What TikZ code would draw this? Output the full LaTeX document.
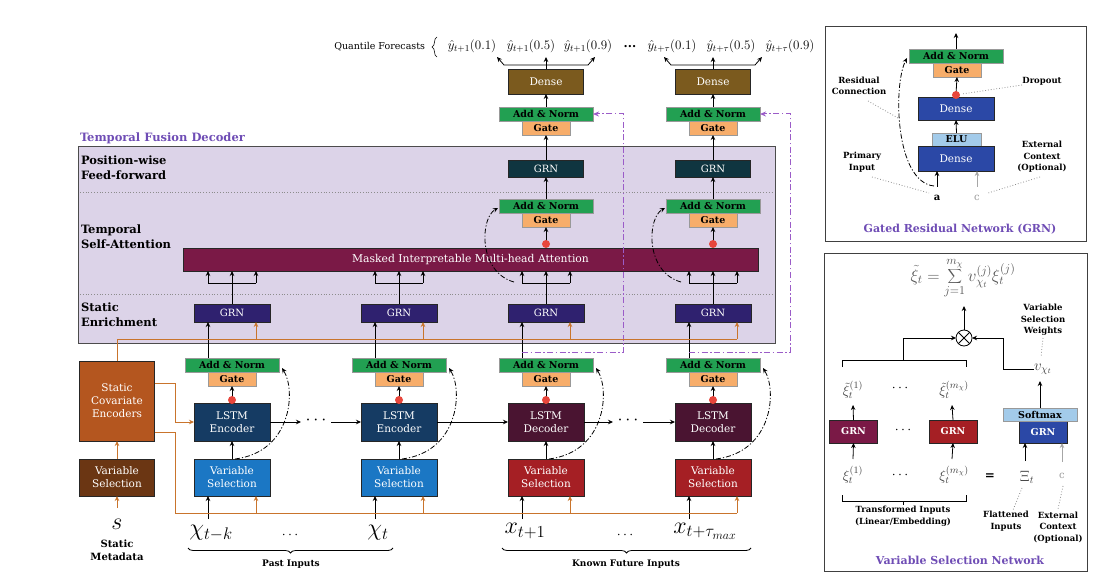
\documentclass[tikz,border=0pt]{standalone}
\usepackage{fix-cm}
\usepackage[no-math]{fontspec}
\setmainfont{DejaVu Serif}
\usetikzlibrary{arrows.meta,decorations.pathreplacing,calc}
\definecolor{angreen}{HTML}{22A052}
\definecolor{gateorange}{HTML}{F7AD6A}
\definecolor{densebrown}{HTML}{7B5A1E}
\definecolor{pwteal}{HTML}{0F3540}
\definecolor{seindigo}{HTML}{2F216F}
\definecolor{attmaroon}{HTML}{7A1946}
\definecolor{encblue}{HTML}{153B63}
\definecolor{decmaroon}{HTML}{4A1431}
\definecolor{vsblue}{HTML}{1B77C4}
\definecolor{vsred}{HTML}{A51F24}
\definecolor{scebrown}{HTML}{B4561F}
\definecolor{svsbrown}{HTML}{6B3613}
\definecolor{tfdfill}{HTML}{DCD3E8}
\definecolor{dashpurple}{HTML}{9B5CC8}
\definecolor{titlepurple}{HTML}{6F4DB5}
\definecolor{lineorange}{HTML}{C9742C}
\definecolor{dotred}{HTML}{E8463C}
\definecolor{denseblue}{HTML}{2B48A6}
\definecolor{lightblue}{HTML}{A3CBEA}
\newcommand\fsz[2]{\fontsize{#1}{#2}\selectfont}
\begin{document}
\begin{tikzpicture}[x=1pt,y=-1pt,
 every node/.style={inner sep=0pt, outer sep=0pt},
 arr/.style={-{Stealth[length=5pt,width=4.5pt]}, line width=0.8pt},
 garr/.style={arr, draw=black!35},
 oarr/.style={arr, draw=lineorange},
 oline/.style={line width=0.8pt, draw=lineorange},
 resid/.style={arr, dash pattern=on 5pt off 2pt on 1.2pt off 2pt},
 purp/.style={line width=1pt, draw=dashpurple, dash pattern=on 6pt off 2.5pt on 1.5pt off 2.5pt, -{Stealth[length=6pt,width=5pt]}},
 box/.style={draw=black!85, line width=0.8pt, text=white, align=center, font=\fsz{10}{12}},
 an/.style={draw=black!40, line width=0.8pt, fill=angreen, text=black, font=\fsz{9.5}{12}\bfseries, minimum width=94pt, minimum height=14pt},
 gate/.style={an, fill=gateorange, minimum width=48pt},
 dropdot/.style={circle, fill=dotred, minimum size=8pt},
 lbl/.style={font=\fsz{9}{11.5}\bfseries, align=center},
 note/.style={font=\fsz{8.5}{11.5}\bfseries, align=center},
 big/.style={font=\fsz{24}{24}},
 mth/.style={font=\fsz{14}{14}},
 rowlbl/.style={anchor=north west, font=\fsz{11.5}{15}\bfseries, align=left},
 dotline/.style={draw=black!45, line width=0.8pt, dotted},
]
\useasboundingbox (0,0) rectangle (1113,585);

% ---------- Temporal fusion decoder background
\node[draw=black!70, line width=1pt, fill=tfdfill, minimum width=697pt, minimum height=196pt] (tfd) at (426.5,245) {};
\draw[dotline] (80,192) -- (774,192);
\draw[dotline] (80,294) -- (774,294);
\node[anchor=west, font=\fsz{11.5}{13}\bfseries, text=titlepurple] (tfdtitle) at (80,138) {Temporal Fusion Decoder};
\node[rowlbl] (rowpw) at (81,156) {Position-wise\\Feed-forward};
\node[rowlbl] (rowsa) at (81,225) {Temporal\\Self-Attention};
\node[rowlbl] (rowse) at (81,303) {Static\\Enrichment};

\node[box, fill=attmaroon, minimum width=575pt, minimum height=23pt, font=\fsz{10.8}{12}] (att) at (470.5,259.5) {Masked Interpretable Multi-head Attention};

% ---------- static covariate path
\node[box, fill=scebrown, minimum width=75pt, minimum height=80pt, font=\fsz{10.5}{13}] (sce) at (117,401) {Static\\Covariate\\Encoders};
\node[box, fill=svsbrown, minimum width=75pt, minimum height=37pt, font=\fsz{10.5}{13}] (svs) at (117,477.5) {Variable\\Selection};
\node[big] (s) at (117,524) {$s$};
\node[font=\fsz{10}{13}\bfseries, align=center] (sm) at (117,550) {Static\\Metadata};
\draw[oarr] (svs.north) -- (sce.south);
\draw[oarr] (117,508) -- (svs.south);

% ---------- columns
\foreach \cx/\i/\lf/\lt/\vf in {232/1/encblue/Encoder/vsblue, 399/2/encblue/Encoder/vsblue, 546/3/decmaroon/Decoder/vsred, 713/4/decmaroon/Decoder/vsred}{
  \node[box, fill=\vf, minimum width=76pt, minimum height=37pt, font=\fsz{10.5}{13}] (vs\i) at (\cx,477.5) {Variable\\Selection};
  \node[box, fill=\lf, minimum width=76pt, minimum height=38pt, font=\fsz{10.5}{13}] (lstm\i) at (\cx,422) {LSTM\\\lt};
  \node[gate] (ga\i) at (\cx,379) {Gate};
  \node[an] (an\i) at (\cx,365) {Add \& Norm};
  \node[box, fill=seindigo, minimum width=76pt, minimum height=18pt] (se\i) at (\cx,313) {GRN};
  \draw[arr] (vs\i.north) -- (lstm\i.south);
  \draw[arr] (\cx,399) -- (ga\i.south);
  \node[dropdot] (dd\i) at (\cx,400) {};
  \draw[arr] (\cx-24,519) -- (\cx-24,496);
  \draw[oarr] (\cx+24,513) -- (\cx+24,496);
  \draw[arr] (\cx-24,358) -- (\cx-24,322);
  \draw[oarr] (\cx+24,339) -- (\cx+24,322);
  \draw[line width=0.8pt] (se\i.north) -- (\cx,283) (\cx-24,283) -- (\cx+24,283);
  \draw[arr] (\cx-24,283) -- (\cx-24,271);
  \draw[arr] (\cx,283) -- (\cx,271);
  \draw[arr] (\cx+24,283) -- (\cx+24,271);
  \draw[resid] (\cx+3,459) .. controls (\cx+60,452) and (\cx+64,390) .. (\cx+50,368);
}

\foreach \cx/\i in {546/3,713/4}{
  \node[gate] (iga\i) at (\cx,220) {Gate};
  \node[an] (ian\i) at (\cx,206) {Add \& Norm};
  \draw[arr] (\cx,243) -- (iga\i.south);
  \node[dropdot] (ad\i) at (\cx,244) {};
  \draw[resid] (\cx-32,282) .. controls (\cx-68,272) and (\cx-66,218) .. (\cx-48,208);
  \node[box, fill=pwteal, minimum width=75pt, minimum height=17pt] (pw\i) at (\cx,168.5) {GRN};
  \draw[arr] (ian\i.north) -- (pw\i.south);
  \node[gate] (uga\i) at (\cx,128) {Gate};
  \node[an] (uan\i) at (\cx,114) {Add \& Norm};
  \draw[arr] (pw\i.north) -- (uga\i.south);
  \node[box, fill=densebrown, minimum width=75pt, minimum height=25pt, font=\fsz{10.5}{12}] (dn\i) at (\cx,81.5) {Dense};
  \draw[arr] (uan\i.north) -- (dn\i.south);
  \draw[arr] (dn\i.north) -- (\cx,57);
  \draw[arr] (\cx,65) -- (\cx-42,65) -- (\cx-49,57);
  \draw[arr] (\cx,65) -- (\cx+42,65) -- (\cx+49,57);
  \draw[purp] (\cx-24,352) -- (\cx+77,352) -- (\cx+77,114) -- (uan\i.east);
}

% LSTM chain
\node[font=\fsz{18}{18}] (ld1) at (316,420) {$\cdots$};
\node[font=\fsz{18}{18}] (ld2) at (628,420) {$\cdots$};
\draw[arr] (lstm1.east) -- (301,422);
\draw[arr] (331,422) -- (lstm2.west);
\draw[arr] (lstm2.east) -- (lstm3.west);
\draw[arr] (lstm3.east) -- (613,422);
\draw[arr] (643,422) -- (lstm4.west);

% orange static context lines
\draw[oline] (sce.north) -- (117,339) -- (737,339);
\draw[oarr] (sce.east |- 0,383) -- (175,383) -- (175,422) -- (lstm1.west);
\draw[oline] (sce.east |- 0,432) -- (175,432) -- (175,513) -- (737,513);

% inputs
\node[big] (xp1) at (211,533) {$\chi_{t-k}$};
\node[mth] (pdots) at (290,535) {$\cdots$};
\node[big] (xp2) at (378,533) {$\chi_t$};
\node[big] (xf1) at (525,531) {$x_{t+1}$};
\node[mth] (fdots) at (625,535) {$\cdots$};
\node[big] (xf2) at (705,531) {$x_{t+\tau_{max}}$};
\draw[line width=0.8pt, decorate, decoration={brace, mirror, amplitude=5pt}] (188,548) -- (393,548);
\draw[line width=0.8pt, decorate, decoration={brace, mirror, amplitude=5pt}] (502,548) -- (751,548);
\node[lbl] (pil) at (291,564) {Past Inputs};
\node[lbl] (kfl) at (626,564) {Known Future Inputs};

% quantile outputs
\node[anchor=east, font=\fsz{9.5}{12}] (qf) at (425,47) {Quantile Forecasts};
\draw[line width=0.6pt, decorate, decoration={brace, amplitude=5pt}] (437,57) -- (437,37);
\node[font=\fsz{13}{13}] (q1) at (472,46) {$\hat{y}_{t+1}(0.1)$};
\node[font=\fsz{13}{13}] (q2) at (531,46) {$\hat{y}_{t+1}(0.5)$};
\node[font=\fsz{13}{13}] (q3) at (588,46) {$\hat{y}_{t+1}(0.9)$};
\node[font=\fsz{12}{12}\bfseries] (qd) at (630,47) {...};
\node[font=\fsz{13}{13}] (q4) at (672,46) {$\hat{y}_{t+\tau}(0.1)$};
\node[font=\fsz{13}{13}] (q5) at (731,46) {$\hat{y}_{t+\tau}(0.5)$};
\node[font=\fsz{13}{13}] (q6) at (790,46) {$\hat{y}_{t+\tau}(0.9)$};

% ---------- GRN panel
\node[draw=black!75, line width=1pt, minimum width=261pt, minimum height=215pt] (grnp) at (955.5,134.5) {};
\node[gate] (gga) at (957,70) {Gate};
\node[an] (gan) at (956,56) {Add \& Norm};
\node[box, fill=denseblue, minimum width=76pt, minimum height=23pt, font=\fsz{10.5}{12}] (gd1) at (956,108.5) {Dense};
\node[box, fill=lightblue, text=black, draw=black!40, font=\fsz{9.5}{12}\bfseries, minimum width=49pt, minimum height=13pt] (gelu) at (956.5,139.5) {ELU};
\node[box, fill=denseblue, minimum width=76pt, minimum height=25pt, font=\fsz{10.5}{12}] (gd2) at (956,158.5) {Dense};
\draw[arr] (956,94) -- (gga.south);
\node[dropdot] (gdd) at (956,95) {};
\draw[arr] (gelu.north) -- (gd1.south);
\draw[arr] (gan.north) -- (956,33);
\node[font=\fsz{10}{12}\bfseries] (ga) at (937,198) {a};
\node[font=\fsz{10}{12}, text=black!40] (gc) at (977,198) {c};
\draw[arr] (937,187) -- (937,171);
\draw[garr] (977,187) -- (977,171);
\draw[resid] (934,186) .. controls (895,182) and (893,85) .. (907,58);
\node[note] (rc) at (859,86) {Residual\\Connection};
\node[note] (dro) at (1042,81) {Dropout};
\node[note] (pri) at (862,162) {Primary\\Input};
\node[note] (ext) at (1042,157) {External\\Context\\(Optional)};
\draw[dotline] (868,101) -- (898,118);
\draw[dotline] (1022,85) -- (962,94);
\draw[dotline] (872,177) -- (929,193);
\draw[dotline] (1040,177) -- (988,193);
\node[font=\fsz{11}{12}\bfseries, text=titlepurple] (grnt) at (960,229) {Gated Residual Network (GRN)};

% ---------- VSN panel
\node[draw=black!75, line width=1pt, minimum width=263pt, minimum height=317pt] (vsnp) at (955.5,412.5) {};
\node[font=\fsz{17}{18}, text=black!65] (form) at (963,278) {$\displaystyle\tilde{\xi}_t=\sum_{j=1}^{m_\chi}v_{\chi_t}^{(j)}\xi_t^{(j)}$};
\node[circle, draw, line width=0.8pt, minimum size=16pt, path picture={\draw[line width=0.8pt] (path picture bounding box.north west) -- (path picture bounding box.south east) (path picture bounding box.north east) -- (path picture bounding box.south west);}] (ot) at (964,338) {};
\draw[arr] (ot.north) -- (964,306);
\draw[line width=0.8pt] (842,367) -- (842,360) -- (966,360) -- (966,367);
\draw[arr] (903,360) -- (903,338) -- (ot.west);
\node[font=\fsz{15}{15}, text=black!75] (vx) at (1043,369) {$v_{\chi_t}$};
\draw[arr] (vx.west) -- (1003,369) -- (1003,338) -- (ot.east);
\node[note] (vsw) at (1043,320) {Variable\\Selection\\Weights};
\draw[dotline] (1043,338) -- (1041,357);
\node[mth, text=black!75] (xt1) at (853,390) {$\tilde{\xi}_t^{(1)}$};
\node[mth] (xtd) at (900,388) {$\cdots$};
\node[mth, text=black!75] (xtm) at (954,390) {$\tilde{\xi}_t^{(m_\chi)}$};
\node[box, fill=attmaroon, font=\fsz{9.5}{12}\bfseries, minimum width=48pt, minimum height=23pt] (vg1) at (853.5,431.5) {GRN};
\node[mth] (gdots) at (903,430) {$\cdots$};
\node[box, fill=vsred, font=\fsz{9.5}{12}\bfseries, minimum width=48pt, minimum height=23pt] (vg2) at (953,431.5) {GRN};
\node[box, fill=denseblue, font=\fsz{9.5}{12}\bfseries, minimum width=48pt, minimum height=22pt] (vg3) at (1043,432) {GRN};
\node[box, fill=lightblue, text=black, draw=black!40, font=\fsz{9.5}{12}\bfseries, minimum width=74pt, minimum height=13pt] (vsm) at (1040,414.5) {Softmax};
\draw[arr] (vg1.north) -- (853,405);
\draw[arr] (vg2.north) -- (952,405);
\draw[arr] (vsm.north) -- (1040,381);
\node[mth, text=black!75] (x1) at (853,475) {$\xi_t^{(1)}$};
\node[mth] (xd) at (900,475) {$\cdots$};
\node[mth, text=black!75] (xm) at (954,475) {$\xi_t^{(m_\chi)}$};
\draw[arr] (853,459) -- (vg1.south);
\draw[arr] (952,459) -- (vg2.south);
\node[font=\fsz{12}{12}\bfseries] (eq) at (990,477) {=};
\node[font=\fsz{15}{15}, text=black!75] (Xi) at (1027,477) {$\Xi_t$};
\node[font=\fsz{10}{12}, text=black!40] (cc) at (1062,476) {c};
\draw[arr] (1025,461) -- (1025,443);
\draw[garr] (1062,462) -- (1062,443);
\draw[line width=0.8pt] (842,495) -- (842,501) -- (966,501) -- (966,495) (903,501) -- (903,505);
\node[note] (tin) at (903,516) {Transformed Inputs\\(Linear/Embedding)};
\node[note] (fin) at (1006,521) {Flattened\\Inputs};
\node[note] (exc) at (1058,527.5) {External\\Context\\(Optional)};
\draw[dotline] (1022,488) -- (1013,510);
\draw[dotline] (1063,486) -- (1058,509);
\node[font=\fsz{11}{12}\bfseries, text=titlepurple] (vsnt) at (960,560) {Variable Selection Network};
\end{tikzpicture}
\end{document}
